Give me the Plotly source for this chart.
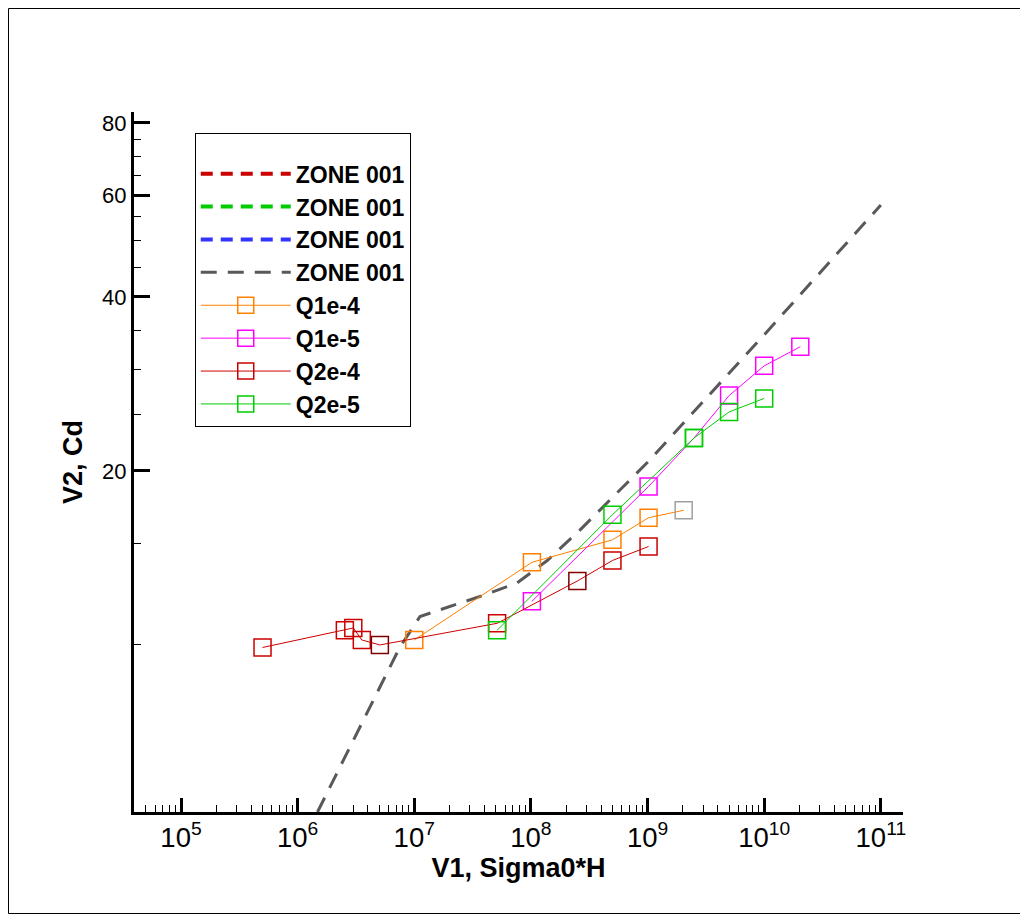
import plotly.graph_objects as go

# reference line (ZONE 001, gray dashed)
ref_x = [1.48e6, 7.5e6, 1.12e7, 2.14e7, 3.98e7, 7.6e7, 1.38e8, 2.63e8, 5.0e8, 1.0e9, 1.0e10, 1.0e11]
ref_y = [5.14, 9.9, 11.2, 11.7, 12.2, 12.8, 14.0, 15.8, 18.0, 20.7, 34.4, 57.7]

q1e4_x = [1.0e7, 1.02e8, 5.0e8, 1.02e9, 2.04e9]
q1e4_y = [10.2, 13.9, 15.2, 16.6, 17.1]
q1e4_mc = ["#ff8000", "#ff8000", "#ff8000", "#ff8000", "#a0a0a0"]

q1e5_x = [1.02e8, 1.02e9, 2.5e9, 5.0e9, 1.0e10, 2.04e10]
q1e5_y = [11.9, 18.8, 22.8, 27.0, 30.4, 32.8]
q1e5_mc = ["#ff00ff", "#ff00ff", "#00cc00", "#ff00ff", "#ff00ff", "#ff00ff"]

q2e4_x = [5.0e5, 2.54e6, 3.0e6, 3.55e6, 5.07e6, 5.13e7, 2.5e8, 5.0e8, 1.02e9]
q2e4_y = [9.9, 10.6, 10.7, 10.2, 10.0, 10.9, 12.9, 14.0, 14.8]
q2e4_mc = ["#cc0000", "#cc0000", "#cc0000", "#cc0000", "#800000", "#cc0000", "#800000", "#cc0000", "#cc0000"]

q2e5_x = [5.13e7, 5.0e8, 2.5e9, 5.0e9, 1.0e10]
q2e5_y = [10.6, 16.8, 22.8, 25.3, 26.7]
q2e5_mc = ["#00cc00", "#00cc00", "#00cc00", "#00cc00", "#00cc00"]

fig = go.Figure()

for c in ["#cc0000", "#00cc00", "#3333ff"]:
    fig.add_trace(go.Scatter(x=[None], y=[None], mode="lines", name="ZONE 001",
                             line=dict(color=c, width=4, dash="12px,8px")))
fig.add_trace(go.Scatter(x=ref_x, y=ref_y, mode="lines", name="ZONE 001",
                         line=dict(color="#595959", width=3, dash="16px,11px")))

series = [
    ("Q1e-4", q1e4_x, q1e4_y, q1e4_mc, "#ff8000"),
    ("Q1e-5", q1e5_x, q1e5_y, q1e5_mc, "#ff00ff"),
    ("Q2e-4", q2e4_x, q2e4_y, q2e4_mc, "#cc0000"),
    ("Q2e-5", q2e5_x, q2e5_y, q2e5_mc, "#00cc00"),
]
for name, xs, ys, mc, lc in series:
    fig.add_trace(go.Scatter(
        x=xs, y=ys, mode="lines+markers", name=name,
        line=dict(color=lc, width=1),
        marker=dict(symbol="square-open", size=17, color=mc, line=dict(width=1.5)),
    ))

axis_font = dict(family="Liberation Sans", size=22, color="black")
fig.update_xaxes(
    type="log", range=[4.597, 11.19], exponentformat="power", dtick=1,
    showgrid=False, zeroline=False, showline=True, linewidth=3, linecolor="black",
    ticks="inside", ticklen=14, tickwidth=3, tickcolor="black", tickfont=axis_font,
    minor=dict(ticks="inside", ticklen=7, tickwidth=1, tickcolor="black", dtick="D1", showgrid=False),
    title=dict(text="<b>V1, Sigma0*H</b>", font=dict(family="Liberation Sans", size=27, color="black"), standoff=2),
)
fig.update_yaxes(
    type="log", range=[0.711, 1.922], tickvals=[20, 40, 60, 80],
    showgrid=False, zeroline=False, showline=True, linewidth=3, linecolor="black",
    ticks="inside", ticklen=16, tickwidth=3, tickcolor="black", tickfont=axis_font,
    minor=dict(ticks="inside", ticklen=7, tickwidth=1, tickcolor="black",
               tickvals=[10, 15, 25, 30, 35, 45, 50, 55, 65, 70, 75], showgrid=False),
    title=dict(text="<b>V2, Cd</b>", font=dict(family="Liberation Sans", size=27, color="black"), standoff=12),
)

fig.add_shape(type="rect", xref="paper", yref="paper",
              x0=-125.5 / 769, x1=893.5 / 769, y0=-101.5 / 700, y1=803.5 / 700,
              line=dict(color="black", width=1))

fig.update_layout(
    width=1020, height=906,
    margin=dict(l=126, r=125, t=104, b=102),
    plot_bgcolor="white", paper_bgcolor="white",
    showlegend=True,
    legend=dict(x=0.079, y=0.97, xanchor="left", yanchor="top",
                bordercolor="black", borderwidth=1, bgcolor="white",
                font=dict(family="Liberation Sans", size=23, color="black", weight="bold"),
                title=dict(text=" ", font=dict(size=14)),
                tracegroupgap=0, itemwidth=90, entrywidth=250),
)

fig.write_html("out.html")
